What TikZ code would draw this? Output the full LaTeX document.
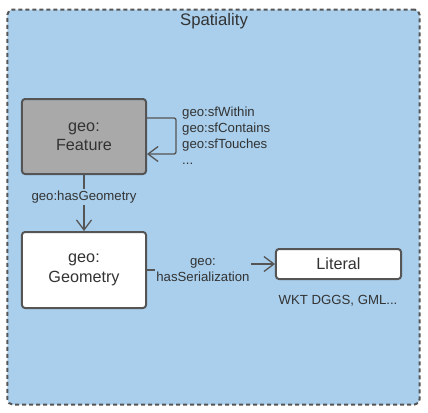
\documentclass[tikz,border=0pt]{standalone}
\usepackage{fontspec}
\setmainfont{Liberation Sans}
\usetikzlibrary{arrows.meta}
\definecolor{bgblue}{HTML}{A9CFEC}
\definecolor{edge}{HTML}{555555}
\definecolor{txt}{HTML}{333333}
\definecolor{featgray}{HTML}{A9A9A9}
\tikzset{
  box/.style={draw=edge, line width=2bp, rounded corners=3bp, inner sep=0pt, align=center, text=txt},
  lbl/.style={text=txt, font=\fontsize{13.2bp}{15bp}\selectfont, inner sep=0pt},
  conn/.style={draw=edge, line width=1.3bp},
  arr/.style={conn, -{Straight Barb[length=10bp,width=15bp,line width=1.3bp]}},
}
\begin{document}
\begin{tikzpicture}[x=1bp,y=-1bp]
\useasboundingbox (0,0) rectangle (428,413);
% container
\node[draw=edge, dash pattern=on 4bp off 3bp, line width=2bp, fill=bgblue, rounded corners=5bp,
      minimum width=412bp, minimum height=395bp, inner sep=0pt] (frame) at (213.5,207) {};
\node[text=txt, font=\fontsize{16.7bp}{18bp}\selectfont] (title) at (214,21) {Spatiality};
% nodes
\node[box, fill=featgray, minimum width=124bp, minimum height=75bp,
      font=\fontsize{16.2bp}{19.5bp}\selectfont] (feat) at (84,136.5) {geo:\\Feature};
\node[box, fill=white, minimum width=124bp, minimum height=76bp,
      font=\fontsize{16.2bp}{19.5bp}\selectfont] (geom) at (84,270) {geo:\\Geometry};
\node[box, fill=white, minimum width=125bp, minimum height=30bp,
      font=\fontsize{16.2bp}{18bp}\selectfont] (lit) at (338.5,264) {Literal};
% labels
\node[lbl, align=left, anchor=north west, font=\fontsize{13.2bp}{16bp}\selectfont] (rels) at (182,107)
  {geo:sfWithin\\geo:sfContains\\geo:sfTouches\\...};
\node[lbl, fill=bgblue, inner ysep=2bp] (hasgeom) at (84,197) {geo:hasGeometry};
\node[lbl, align=center, fill=bgblue, inner xsep=1bp, font=\fontsize{13.2bp}{15.5bp}\selectfont] (hasser) at (203,270) {geo:\\hasSerialization};
\node[lbl] (wkt) at (338,301) {WKT DGGS, GML...};
% connectors
\coordinate (loopA) at (176,118);
\coordinate (loopB) at (176,154);
\draw[arr, rounded corners=2bp] (feat.east |- loopA) -- (loopA) -- (loopB) -- (feat.east |- loopB);
\draw[conn] (feat.south) -- (hasgeom.north);
\draw[arr] (hasgeom.south) -- (geom.north);
\draw[conn] (geom.east) -- (hasser.west |- geom.east);
\draw[arr] (hasser.east |- lit.west) -- (lit.west);
\end{tikzpicture}
\end{document}
